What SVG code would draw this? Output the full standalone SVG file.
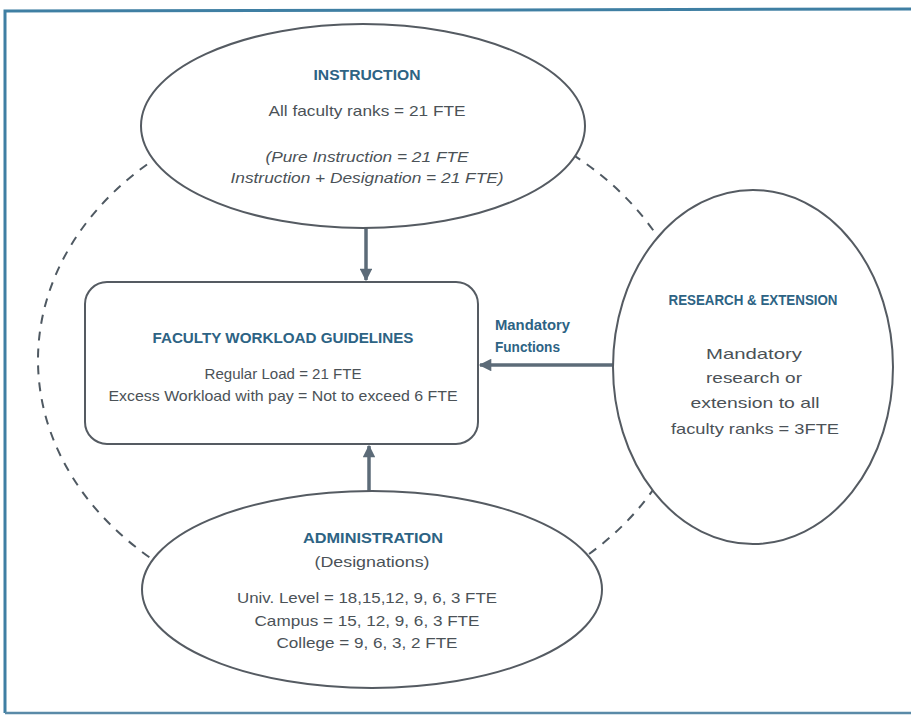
<svg xmlns="http://www.w3.org/2000/svg" width="911" height="717" viewBox="0 0 911 717">
<defs>
<style>
.node{fill:#fff;stroke:#555b62;stroke-width:2}
.dash{fill:none;stroke:#4f5962;stroke-width:2;stroke-dasharray:9 8}
.conn{stroke:#5c6b78;stroke-width:3.5;fill:none}
.t{font-family:"Liberation Sans","DejaVu Sans",sans-serif;text-anchor:middle}
.h{font-weight:bold;fill:#2d6384;font-size:15px}
.b{fill:#4b5257;font-size:15px}
.i{font-style:italic}
</style>
<marker id="ah" viewBox="0 0 10 10" refX="9" refY="5" markerWidth="4" markerHeight="3.6" orient="auto" markerUnits="strokeWidth">
<path d="M0,0 L10,5 L0,10 z" fill="#5c6b78"/>
</marker>
</defs>
<rect width="911" height="717" fill="#fff"/>
<path d="M5,713 L5,11 L911,9" fill="none" stroke="#3f7fa3" stroke-width="3"/>
<path d="M5,713 L911,713" fill="none" stroke="#5a8aa8" stroke-width="2.5"/>

<g id="cycle">
<ellipse class="dash" cx="367" cy="360" rx="329" ry="263"/>
</g>

<g id="connectors">
<line class="conn" x1="366" y1="228" x2="366" y2="280" marker-end="url(#ah)"/>
<line class="conn" x1="369" y1="491" x2="369" y2="446" marker-end="url(#ah)"/>
<line class="conn" x1="613" y1="365" x2="480" y2="365" marker-end="url(#ah)"/>
</g>

<g id="instruction">
<ellipse class="node" cx="363" cy="126" rx="222" ry="102"/>
<text class="t h" x="367" y="80" textLength="107" lengthAdjust="spacingAndGlyphs">INSTRUCTION</text>
<text class="t b" x="367" y="116" textLength="197" lengthAdjust="spacingAndGlyphs">All faculty ranks = 21 FTE</text>
<text class="t b i" x="367" y="162" textLength="203" lengthAdjust="spacingAndGlyphs">(Pure Instruction = 21 FTE</text>
<text class="t b i" x="367" y="183" textLength="273" lengthAdjust="spacingAndGlyphs">Instruction + Designation = 21 FTE)</text>
</g>

<g id="guidelines">
<rect class="node" x="85" y="282" width="393" height="162" rx="22"/>
<text class="t h" x="283" y="343" font-size="16" textLength="261" lengthAdjust="spacingAndGlyphs">FACULTY WORKLOAD GUIDELINES</text>
<text class="t b" x="283" y="379" font-size="14" textLength="157" lengthAdjust="spacingAndGlyphs">Regular Load = 21 FTE</text>
<text class="t b" x="283" y="401" font-size="14" textLength="349" lengthAdjust="spacingAndGlyphs">Excess Workload with pay = Not to exceed 6 FTE</text>
</g>

<g id="mandatory-label">
<text x="495" y="330" font-family="Liberation Sans, DejaVu Sans, sans-serif" font-size="14" font-weight="bold" fill="#2d6384" textLength="75" lengthAdjust="spacingAndGlyphs">Mandatory</text>
<text x="495" y="352" font-family="Liberation Sans, DejaVu Sans, sans-serif" font-size="14" font-weight="bold" fill="#2d6384" textLength="65" lengthAdjust="spacingAndGlyphs">Functions</text>
</g>

<g id="research">
<ellipse class="node" cx="753" cy="367" rx="140" ry="177"/>
<text class="t h" x="753" y="305" font-size="14" textLength="169" lengthAdjust="spacingAndGlyphs">RESEARCH &amp; EXTENSION</text>
<text class="t b" x="754" y="359" font-size="19" textLength="96" lengthAdjust="spacingAndGlyphs">Mandatory</text>
<text class="t b" x="754" y="383" font-size="19" textLength="96" lengthAdjust="spacingAndGlyphs">research or</text>
<text class="t b" x="755" y="408" font-size="19" textLength="129" lengthAdjust="spacingAndGlyphs">extension to all</text>
<text class="t b" x="755" y="434" font-size="19" textLength="168" lengthAdjust="spacingAndGlyphs">faculty ranks = 3FTE</text>
</g>

<g id="administration">
<ellipse class="node" cx="372" cy="589.5" rx="230" ry="98.5"/>
<text class="t h" x="373" y="543" font-size="16" textLength="140" lengthAdjust="spacingAndGlyphs">ADMINISTRATION</text>
<text class="t b" x="372" y="567" textLength="115" lengthAdjust="spacingAndGlyphs">(Designations)</text>
<text class="t b" x="367" y="603" textLength="260" lengthAdjust="spacingAndGlyphs">Univ. Level = 18,15,12, 9, 6, 3 FTE</text>
<text class="t b" x="367" y="626" textLength="225" lengthAdjust="spacingAndGlyphs">Campus = 15, 12, 9, 6, 3 FTE</text>
<text class="t b" x="367" y="648" textLength="181" lengthAdjust="spacingAndGlyphs">College = 9, 6, 3, 2 FTE</text>
</g>
</svg>
